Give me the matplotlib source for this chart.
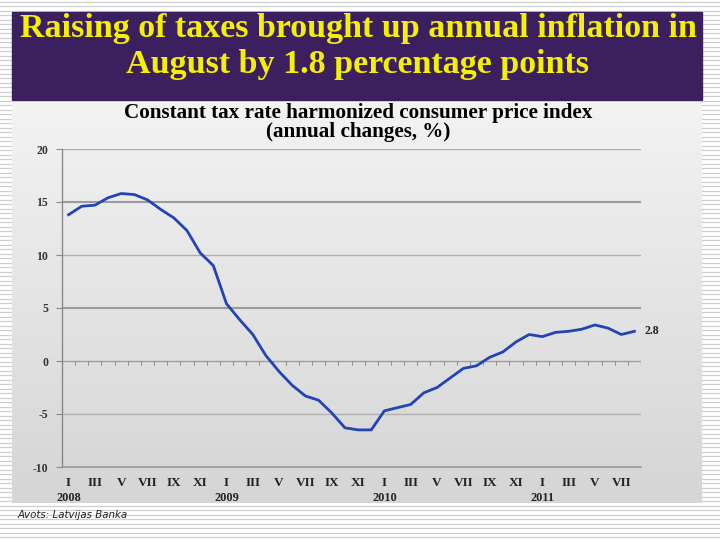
import numpy as np
import matplotlib
matplotlib.use("Agg")
import matplotlib.pyplot as plt
from matplotlib.patches import Rectangle

# ---- data ----
months = list(range(44))  # Jan 2008 .. Aug 2011
values = [13.8, 14.6, 14.7, 15.4, 15.8, 15.7, 15.2, 14.3, 13.5, 12.3, 10.2, 9.0,
          5.4, 3.9, 2.5, 0.5, -1.0, -2.3, -3.3, -3.7, -4.9, -6.3, -6.5, -6.5,
          -4.7, -4.4, -4.1, -3.0, -2.5, -1.6, -0.7, -0.45, 0.35, 0.85, 1.8, 2.5,
          2.3, 2.7, 2.8, 3.0, 3.4, 3.1, 2.5, 2.8]
month_labels = ["I", "III", "V", "VII", "IX", "XI"]
years = ["2008", "2009", "2010", "2011"]
yticks = [-10, -5, 0, 5, 10, 15, 20]
last_label = "2.8"

title_lines = ["Raising of taxes brought up annual inflation in",
               "August by 1.8 percentage points"]
subtitle_lines = ["Constant tax rate harmonized consumer price index",
                  "(annual changes, %)"]
source = "Avots: Latvijas Banka"

W, H = 720, 540
fig = plt.figure(figsize=(7.2, 5.4), dpi=100)

# background axes in pixel coords
bg = fig.add_axes([0, 0, 1, 1])
bg.set_xlim(0, W)
bg.set_ylim(H, 0)
bg.axis("off")
bg.add_patch(Rectangle((0, 0), W, H, color="white", zorder=0))
for yy in np.arange(1.5, H, 4.5):
    bg.plot([0, W], [yy, yy], color="#cfcfcf", lw=0.9, zorder=1)

# chart area gradient
grad = np.linspace(0, 1, 256).reshape(-1, 1)
cmap = matplotlib.colors.LinearSegmentedColormap.from_list("g", ["#f3f3f3", "#d5d5d5"])
bg.imshow(grad, extent=(12, 702, 503, 100), aspect="auto", cmap=cmap, zorder=2)
bg.set_xlim(0, W)
bg.set_ylim(H, 0)

# banner
bg.add_patch(Rectangle((12, 12), 690, 88, color="#3b1f5f", zorder=3))
bg.text(358, 37, title_lines[0], ha="center", va="baseline", color="#f4f000",
        fontsize=24.5, fontweight="bold", family="Liberation Serif", zorder=4)
bg.text(358, 73, title_lines[1], ha="center", va="baseline", color="#f4f000",
        fontsize=24.5, fontweight="bold", family="Liberation Serif", zorder=4)

# subtitle
bg.text(358, 118, subtitle_lines[0], ha="center", va="baseline", color="black",
        fontsize=15.2, fontweight="bold", family="Liberation Serif", zorder=4)
bg.text(358, 137, subtitle_lines[1], ha="center", va="baseline", color="black",
        fontsize=15.2, fontweight="bold", family="Liberation Serif", zorder=4)

bg.text(18, 518, source, ha="left", va="baseline", color="#222222",
        fontsize=7.4, style="italic", family="DejaVu Sans", zorder=4)

# data axes
L, R, T, B = 62, 641, 149, 467
ax = fig.add_axes([L / W, 1 - B / H, (R - L) / W, (B - T) / H])
ax.patch.set_alpha(0)
ax.set_xlim(-0.5, 43.5)
ax.set_ylim(-10, 20)
for s in ["top", "right"]:
    ax.spines[s].set_visible(False)
ax.spines["left"].set_color("#8a8a8a")
ax.spines["bottom"].set_color("#9a9a9a")
ax.spines["left"].set_linewidth(1)
ax.spines["bottom"].set_linewidth(1.2)

for v in yticks:
    if v in (-10, 0):
        continue
    lw = 1.5 if v in (5, 15) else 1.0
    c = "#9c9c9c" if v in (5, 15) else "#b0b0b0"
    ax.axhline(v, color=c, lw=lw, zorder=1)
ax.axhline(0, color="#a0a0a0", lw=1.0, zorder=1)
ax.vlines(np.arange(0.5, 43.6, 1.0), -0.4, 0, color="#909090", lw=0.8, zorder=1)

ax.set_yticks(yticks)
ax.set_yticklabels([str(v) for v in yticks], family="Liberation Serif",
                   fontweight="bold", fontsize=8.5, color="#333333")
ax.tick_params(axis="y", length=4, color="#8a8a8a", pad=6)
ax.set_xticks([])

ax.plot(months, values, color="#2344b4", lw=2.0, zorder=3, solid_joinstyle="round")

trans = ax.get_xaxis_transform()
for m in months:
    if m % 2 == 0:
        lab = month_labels[(m % 12) // 2]
        ax.text(m, -0.033, lab, transform=trans, ha="center", va="top",
                family="Liberation Serif", fontweight="bold", fontsize=9.5, color="#222222")
    if m % 12 == 0:
        ax.text(m, -0.080, years[m // 12], transform=trans, ha="center", va="top",
                family="Liberation Serif", fontweight="bold", fontsize=8.8, color="#222222")

ax.annotate(last_label, (months[-1], values[-1]), xytext=(7, 0), textcoords="offset points",
            ha="left", va="center", family="Liberation Serif", fontweight="bold",
            fontsize=8.5, color="#222222", annotation_clip=False)

fig.savefig("out.png", dpi=100)
